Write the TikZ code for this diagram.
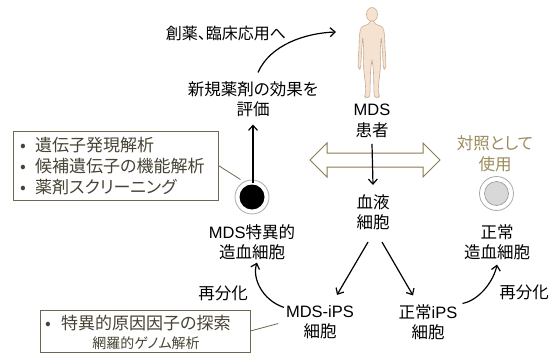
\documentclass[tikz,border=0pt]{standalone}
\usepackage{fontspec}
\setmainfont{Noto Sans CJK JP}[RawFeature=+palt]
\newfontfamily\latinfnt{Liberation Sans}
\newcommand\latn[1]{{\latinfnt #1}}
\newcommand\bul{\makebox[15pt][l]{•}}
\usetikzlibrary{arrows.meta,calc}

\definecolor{boxline}{RGB}{112,103,82}
\definecolor{boxtext}{RGB}{72,67,52}
\definecolor{ctrltext}{RGB}{156,139,92}
\definecolor{ctrlline}{RGB}{138,123,80}
\definecolor{skin}{RGB}{246,226,208}
\definecolor{skinline}{RGB}{200,174,152}
\definecolor{ringgray}{RGB}{170,170,170}
\definecolor{coregray}{RGB}{216,216,216}
\definecolor{coreline}{RGB}{150,150,150}

\tikzset{
  lbl/.style={align=center, inner sep=2pt, font=\fontsize{16.5}{20.5}\selectfont},
  arr/.style={line width=1.2pt, -{Straight Barb[length=5pt,width=9pt]}},
  conn/.style={draw=boxline, line width=0.8pt},
  infobox/.style={draw=boxline, line width=0.9pt, fill=white, inner sep=0pt},
  boxtxt/.style={text=boxtext, align=left, inner sep=0pt},
  ring/.style={circle, draw=ringgray, line width=0.8pt, minimum size=34pt, inner sep=0pt},
}

\begin{document}
\begin{tikzpicture}[x=1pt, y=-1pt]
  % canvas
  \fill[white] (0,0) rectangle (549,356);
  \useasboundingbox (0,0) rectangle (549,356);

  % patient figure
  \fill[skin, draw=skinline, line width=0.6pt] (372,14.5) ellipse [x radius=5.5, y radius=7];
  \filldraw[fill=skin, draw=skinline, line width=0.6pt, rounded corners=1.5pt]
    (374.5,21) -- (374.6,24) -- (381,26) -- (383.5,28.5) -- (384.5,35) -- (385,48)
    -- (385.8,60) -- (386,66) -- (385,69.5) -- (383.3,68) -- (383,60) -- (382.2,48)
    -- (381.3,37) -- (380.5,45) -- (380.2,55) -- (380.8,62) -- (380,72) -- (378.6,84)
    -- (378.2,92) -- (379.5,96) -- (378.5,97.5) -- (374.5,97.5) -- (374,93) -- (373.8,84)
    -- (373.5,72) -- (372.6,63) -- (372,62)
    -- (371.4,63) -- (370.5,72) -- (370.2,84) -- (370,93) -- (369.5,97.5) -- (365.5,97.5)
    -- (364.5,96) -- (365.8,92) -- (365.4,84) -- (364,72) -- (363.2,62) -- (363.8,55)
    -- (363.5,45) -- (362.7,37) -- (361.8,48) -- (361,60) -- (360.7,68) -- (359,69.5)
    -- (358,66) -- (358.2,60) -- (359,48) -- (359.5,35) -- (360.5,28.5) -- (363,26)
    -- (369.4,24) -- (369.5,21) -- cycle;
  \coordinate (toClinic) at (336,32);

  % labels
  \node[lbl, font=\fontsize{16}{20}\selectfont] (clinic) at (226,33) {創薬、臨床応用へ};
  \node[lbl] (eval) at (253,99) {新規薬剤の効果を\\評価};
  \node[lbl] (patient) at (372,121) {\latn{MDS}\\患者};
  \node[lbl] (blood) at (373,212) {血液\\細胞};
  \node[lbl, text=ctrltext] (ctrl) at (495,154) {対照として\\使用};
  \node[lbl] (mdslbl) at (252,242) {\latn{MDS}特異的\\造血細胞};
  \node[lbl] (normlbl) at (497,242) {正常\\造血細胞};
  \node[lbl] (mdsips) at (320,322) {\latn{MDS-iPS}\\細胞};
  \node[lbl] (normips) at (428,322) {正常\latn{iPS}\\細胞};
  \node[lbl] (rediffL) at (223,293) {再分化};
  \node[lbl] (rediffR) at (524,292) {再分化};

  % cells
  \node[ring] (mdscell) at (252,197) {};
  \node[circle, fill=black, minimum size=25pt, inner sep=0pt] (mdscore) at (mdscell.center) {};
  \node[ring] (normcell) at (496.5,193.5) {};
  \node[circle, fill=coregray, draw=coreline, line width=0.6pt, minimum size=24pt, inner sep=0pt] (normcore) at (normcell.center) {};

  % comparison double arrow
  \filldraw[fill=white, draw=ctrlline, line width=1pt]
    (310,160) -- (327,143) -- (327,153) -- (423,153) -- (423,143) -- (440,160)
    -- (423,177) -- (423,167) -- (327,167) -- (327,177) -- cycle;

  % analysis boxes
  \node[infobox, minimum width=205pt, minimum height=69pt] (box1) at (115.5,165.5) {};
  \node[boxtxt, anchor=west, font=\fontsize{17}{21}\selectfont] (box1txt) at (20,166.5)
    {\bul 遺伝子発現解析\\\bul 候補遺伝子の機能解析\\\bul 薬剤スクリーニング};
  \node[infobox, minimum width=210pt, minimum height=42pt] (box2) at (145,331) {};
  \node[boxtxt, anchor=west, font=\fontsize{17}{20}\selectfont] (box2a) at (45,323)
    {\makebox[16pt][l]{•}特異的原因因子の探索};
  \node[boxtxt, font=\fontsize{14}{17}\selectfont] (box2b) at (146,343) {網羅的ゲノム解析};

  % flow arrows
  \draw[arr] ($(eval.north)+(5,-6.5)$) .. controls (270,45) and (305,33) .. (toClinic);
  \draw[arr] ($(mdscell.north)+(1,3)$) -- ($(eval.south)+(0,5.5)$);
  \draw[arr] ($(patient.south)+(0,4)$) -- ($(blood.north)+(0,-7)$);
  \draw[arr] ($(blood.south)+(-5,10)$) -- ($(mdsips.north)+(17,-8)$);
  \draw[arr] ($(blood.south)+(9,10)$) -- ($(normips.north)+(-15,-6.5)$);
  \draw[arr] ($(mdsips.north west)+(0,4.5)$) .. controls (262,300) and (252,278) .. ($(mdslbl.south)+(5,0.5)$);
  \draw[arr] ($(normips.north east)+(3,1.5)$) .. controls (480,300) and (494,280) .. ($(normlbl.south)+(0,2.5)$);

  % box connectors
  \draw[conn, shorten >=4pt] (box1.east) -- (mdscell.118);
  \draw[conn, shorten >=6pt] (box2.east) -- (mdsips.west);
\end{tikzpicture}
\end{document}
